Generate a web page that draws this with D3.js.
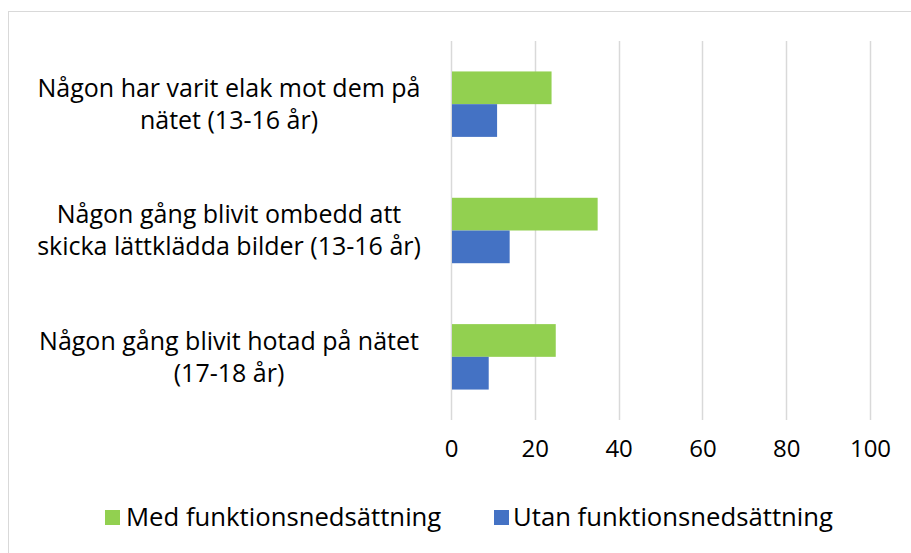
<!DOCTYPE html>
<html>
<head>
<meta charset="utf-8">
<script src="https://cdn.jsdelivr.net/npm/d3@7"></script>
<style>
  body { margin: 0; background: #fff; }
  text { font-family: "Open Sans", "Liberation Sans", sans-serif; fill: #000; }
</style>
</head>
<body>
<script>
// categories, top to bottom (line breaks as in the picture)
var categories = [
  "Någon har varit elak mot dem på\nnätet (13-16 år)",
  "Någon gång blivit ombedd att\nskicka lättklädda bilder (13-16 år)",
  "Någon gång blivit hotad på nätet\n(17-18 år)"
];
var series = ["Med funktionsnedsättning", "Utan funktionsnedsättning"];
var medValues = [24, 35, 25];
var utanValues = [11, 14, 9];
var xTicks = [0, 20, 40, 60, 80, 100];
var colors = ["#92D050", "#4472C4"];

var data = categories.map(function(c, i) {
  return { cat: c, values: [medValues[i], utanValues[i]] };
});

var W = 911, H = 553;
var margin = {top: 41, right: 41, bottom: 133, left: 451}
  , width = W - margin.left - margin.right
  , height = H - margin.top - margin.bottom;

var svg = d3.select('body')
  .append('svg')
  .attr('width', W)
  .attr('height', H);

// chart border
svg.append('rect')
  .attr('x', 8.5).attr('y', 11.5)
  .attr('width', W).attr('height', H)
  .attr('fill', 'none')
  .attr('stroke', '#d9d9d9')
  .attr('stroke-width', 1);

var main = svg.append('g')
  .attr('transform', 'translate(' + margin.left + ',' + margin.top + ')');

var x = d3.scaleLinear().domain([0, 100]).range([0, width]);

var y = d3.scaleBand()
  .domain(categories)
  .range([0, height])
  .paddingInner(0.482)
  .paddingOuter(0.241);

var ySub = d3.scaleBand()
  .domain(series)
  .range([0, y.bandwidth()]);

// gridlines
main.selectAll('line.grid')
  .data(xTicks)
  .enter().append('line')
  .attr('class', 'grid')
  .attr('x1', function(d) { return Math.round(x(d)) + 0.5; })
  .attr('x2', function(d) { return Math.round(x(d)) + 0.5; })
  .attr('y1', 0)
  .attr('y2', height)
  .attr('stroke', '#d9d9d9')
  .attr('stroke-width', 1.5);

// x axis labels
var xAxis = d3.axisBottom(x).tickValues(xTicks).tickSize(0).tickPadding(0);
var xg = main.append('g')
  .attr('transform', 'translate(0,' + height + ')')
  .call(xAxis);
xg.select('.domain').remove();
xg.selectAll('text')
  .attr('dy', null)
  .attr('y', 37)
  .style('font-size', '24px')
  .style('font-family', '"Open Sans", "Liberation Sans", sans-serif')
  .attr('fill', '#000');

// bars
var groups = main.selectAll('g.cat')
  .data(data)
  .enter().append('g')
  .attr('class', 'cat')
  .attr('transform', function(d) { return 'translate(0,' + y(d.cat) + ')'; });

groups.selectAll('rect')
  .data(function(d) { return d.values.map(function(v, i) { return {s: series[i], v: v, i: i}; }); })
  .enter().append('rect')
  .attr('x', x(0) + 1)
  .attr('y', function(d) { return ySub(d.s); })
  .attr('width', function(d) { return x(d.v) - x(0) - 1; })
  .attr('height', ySub.bandwidth())
  .attr('fill', function(d) { return colors[d.i]; });

// category labels
var labelX = 229 - margin.left;
groups.append('text')
  .attr('text-anchor', 'middle')
  .style('font-size', '25px')
  .each(function(d) {
    var lines = d.cat.split('\n');
    var t = d3.select(this);
    var lh = 32;
    var y0 = y.bandwidth() / 2 - (lines.length - 1) * lh / 2;
    lines.forEach(function(l, i) {
      t.append('tspan')
        .attr('x', labelX)
        .attr('y', y0 + i * lh)
        .attr('dy', '0.35em')
        .text(l);
    });
  });

// legend
var legendItems = [
  {name: series[0], sx: 105, tx: 126},
  {name: series[1], sx: 494, tx: 513}
];
var lg = svg.append('g');
legendItems.forEach(function(it, i) {
  lg.append('rect')
    .attr('x', it.sx).attr('y', 510)
    .attr('width', 15).attr('height', 15)
    .attr('fill', colors[i]);
  lg.append('text')
    .attr('x', it.tx).attr('y', 517)
    .attr('dy', '0.35em')
    .style('font-size', '25.7px')
    .text(it.name);
});
</script>
</body>
</html>
